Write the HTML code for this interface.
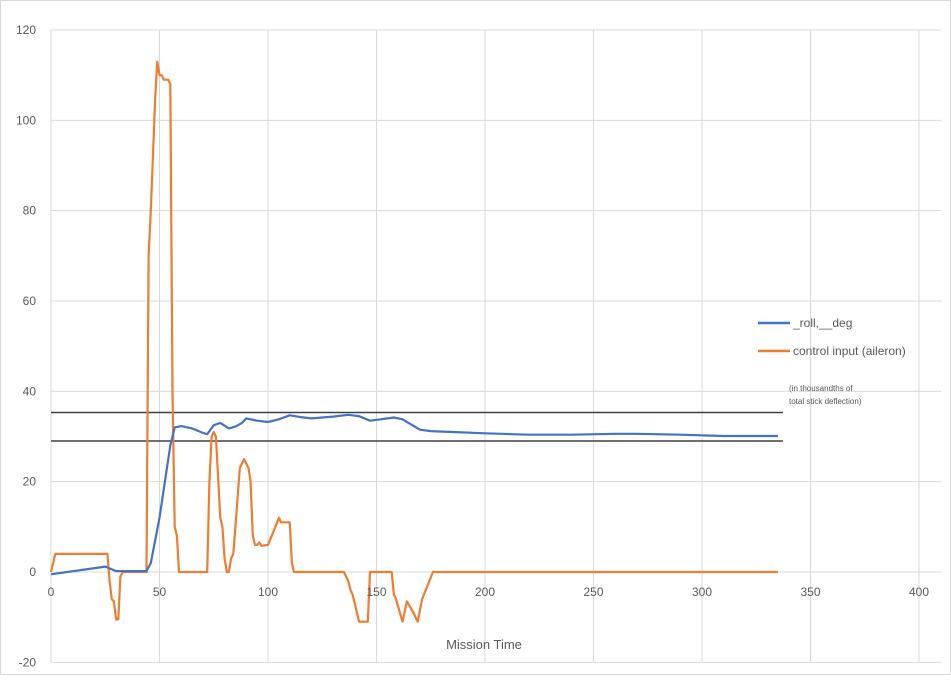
<!DOCTYPE html>
<html><head><meta charset="utf-8"><style>
body{margin:0;background:#fff;font-family:"Liberation Sans",sans-serif}
svg text{font-family:"Liberation Sans",sans-serif;fill:#595959}
</style></head><body>
<svg id="c" width="951" height="675">
<rect x="0.5" y="0.5" width="950" height="674" fill="#fff" stroke="#d9d9d9"/>
<g id="grid"></g><g id="ref"></g><g id="series"></g><g id="ticks"></g>
<text x="484" y="649" font-size="13" text-anchor="middle">Mission Time</text>
<g>
<line x1="758" y1="323" x2="790" y2="323" stroke="#4472c4" stroke-width="2.5"/>
<text x="793" y="327" font-size="12">_roll,__deg</text>
<line x1="758" y1="351" x2="790" y2="351" stroke="#ed7d31" stroke-width="2.5"/>
<text x="793" y="355" font-size="12">control input (aileron)</text>
<text x="789" y="391" font-size="8" style="fill:#555">(in thousandths of</text>
<text x="789" y="404" font-size="8" style="fill:#555">total stick deflection)</text>
</g>
</svg>
<script>
const xTicks=[0,50,100,150,200,250,300,350,400];
const yTicks=[-20,0,20,40,60,80,100,120];
const refLevels=[35.3,29];
const rollT=[0,25,30,44,46,50,55,57,60,65,70,72,75,78,82,85,88,90,95,100,105,110,115,120,130,137,142,147,152,158,162,170,175,185,200,220,240,260,270,290,310,335];
const rollV=[-0.5,1.2,0.2,0.2,2,12,28,32,32.3,31.8,30.8,30.5,32.5,33,31.8,32.2,33,34,33.5,33.2,33.8,34.7,34.3,34,34.4,34.8,34.5,33.5,33.8,34.2,33.8,31.5,31.2,31,30.7,30.4,30.4,30.6,30.6,30.4,30.1,30.1];
const ailT=[0,2,26,27,28,29,30,31,32,33,44,45,46,48,49,50,51,52,54,55,56,57,58,59,72,73,74,75,76,78,79,80,81,82,83,84,85,87,89,91,92,93,94,95,96,97,100,103,105,106,110,111,112,135,137,138,139,142,146,147,157,158,159,162,164,167,169,171,176,335];
const ailV=[0,4,4,-2,-6,-6.5,-10.5,-10.5,-1,0,0,70,80,105,113,110,110,109,109,108,40,10,8,0,0,20,30,31,30,12,10,3,0,0,3,4,10,23,25,23,20,8,6,6,6.5,5.8,6,9.5,12,11,11,2,0,0,-2,-4,-5,-11,-11,0,0,-5,-6,-11,-6.5,-9,-11,-6,0,0];
const X=v=>51+v*(868/400), Y=v=>572-v*(542/120);
const ns="http://www.w3.org/2000/svg";
function mk(p,t,a){const e=document.createElementNS(ns,t);for(const k in a)e.setAttribute(k,a[k]);document.getElementById(p).appendChild(e);return e;}
xTicks.forEach(v=>{
 const l=mk('grid','line',{x1:X(v),x2:X(v),y1:Y(120),y2:Y(-20),stroke:'#d9d9d9'});
 
 
 const t=mk('ticks','text',{x:X(v),y:Y(0)+24,'font-size':12,'text-anchor':'middle'});t.textContent=v;
 
 
});
yTicks.forEach(v=>{
 const l=mk('grid','line',{x1:X(0),x2:X(400)+22,y1:Y(v),y2:Y(v),stroke:'#d9d9d9'});
 
 
 const t=mk('ticks','text',{x:36,y:Y(v)+4,'font-size':12,'text-anchor':'end'});t.textContent=v;
 
 
});
refLevels.forEach(v=>{
 const l=mk('ref','line',{x1:X(0),x2:783,y1:Y(v),y2:Y(v),stroke:'#404040','stroke-width':1.5});
 
 
});
function path(T,V,c,name){
 const d=T.map((t,i)=>(i?'L':'M')+X(t).toFixed(1)+','+Y(V[i]).toFixed(1)).join('');
 const p=mk('series','path',{d:d,fill:'none',stroke:c,'stroke-width':2.2,'stroke-linejoin':'round'});
 
 
}
path(ailT,ailV,'#ed7d31','aileron-line');
path(rollT,rollV,'#4472c4','roll-line');
</script>
</body></html>
